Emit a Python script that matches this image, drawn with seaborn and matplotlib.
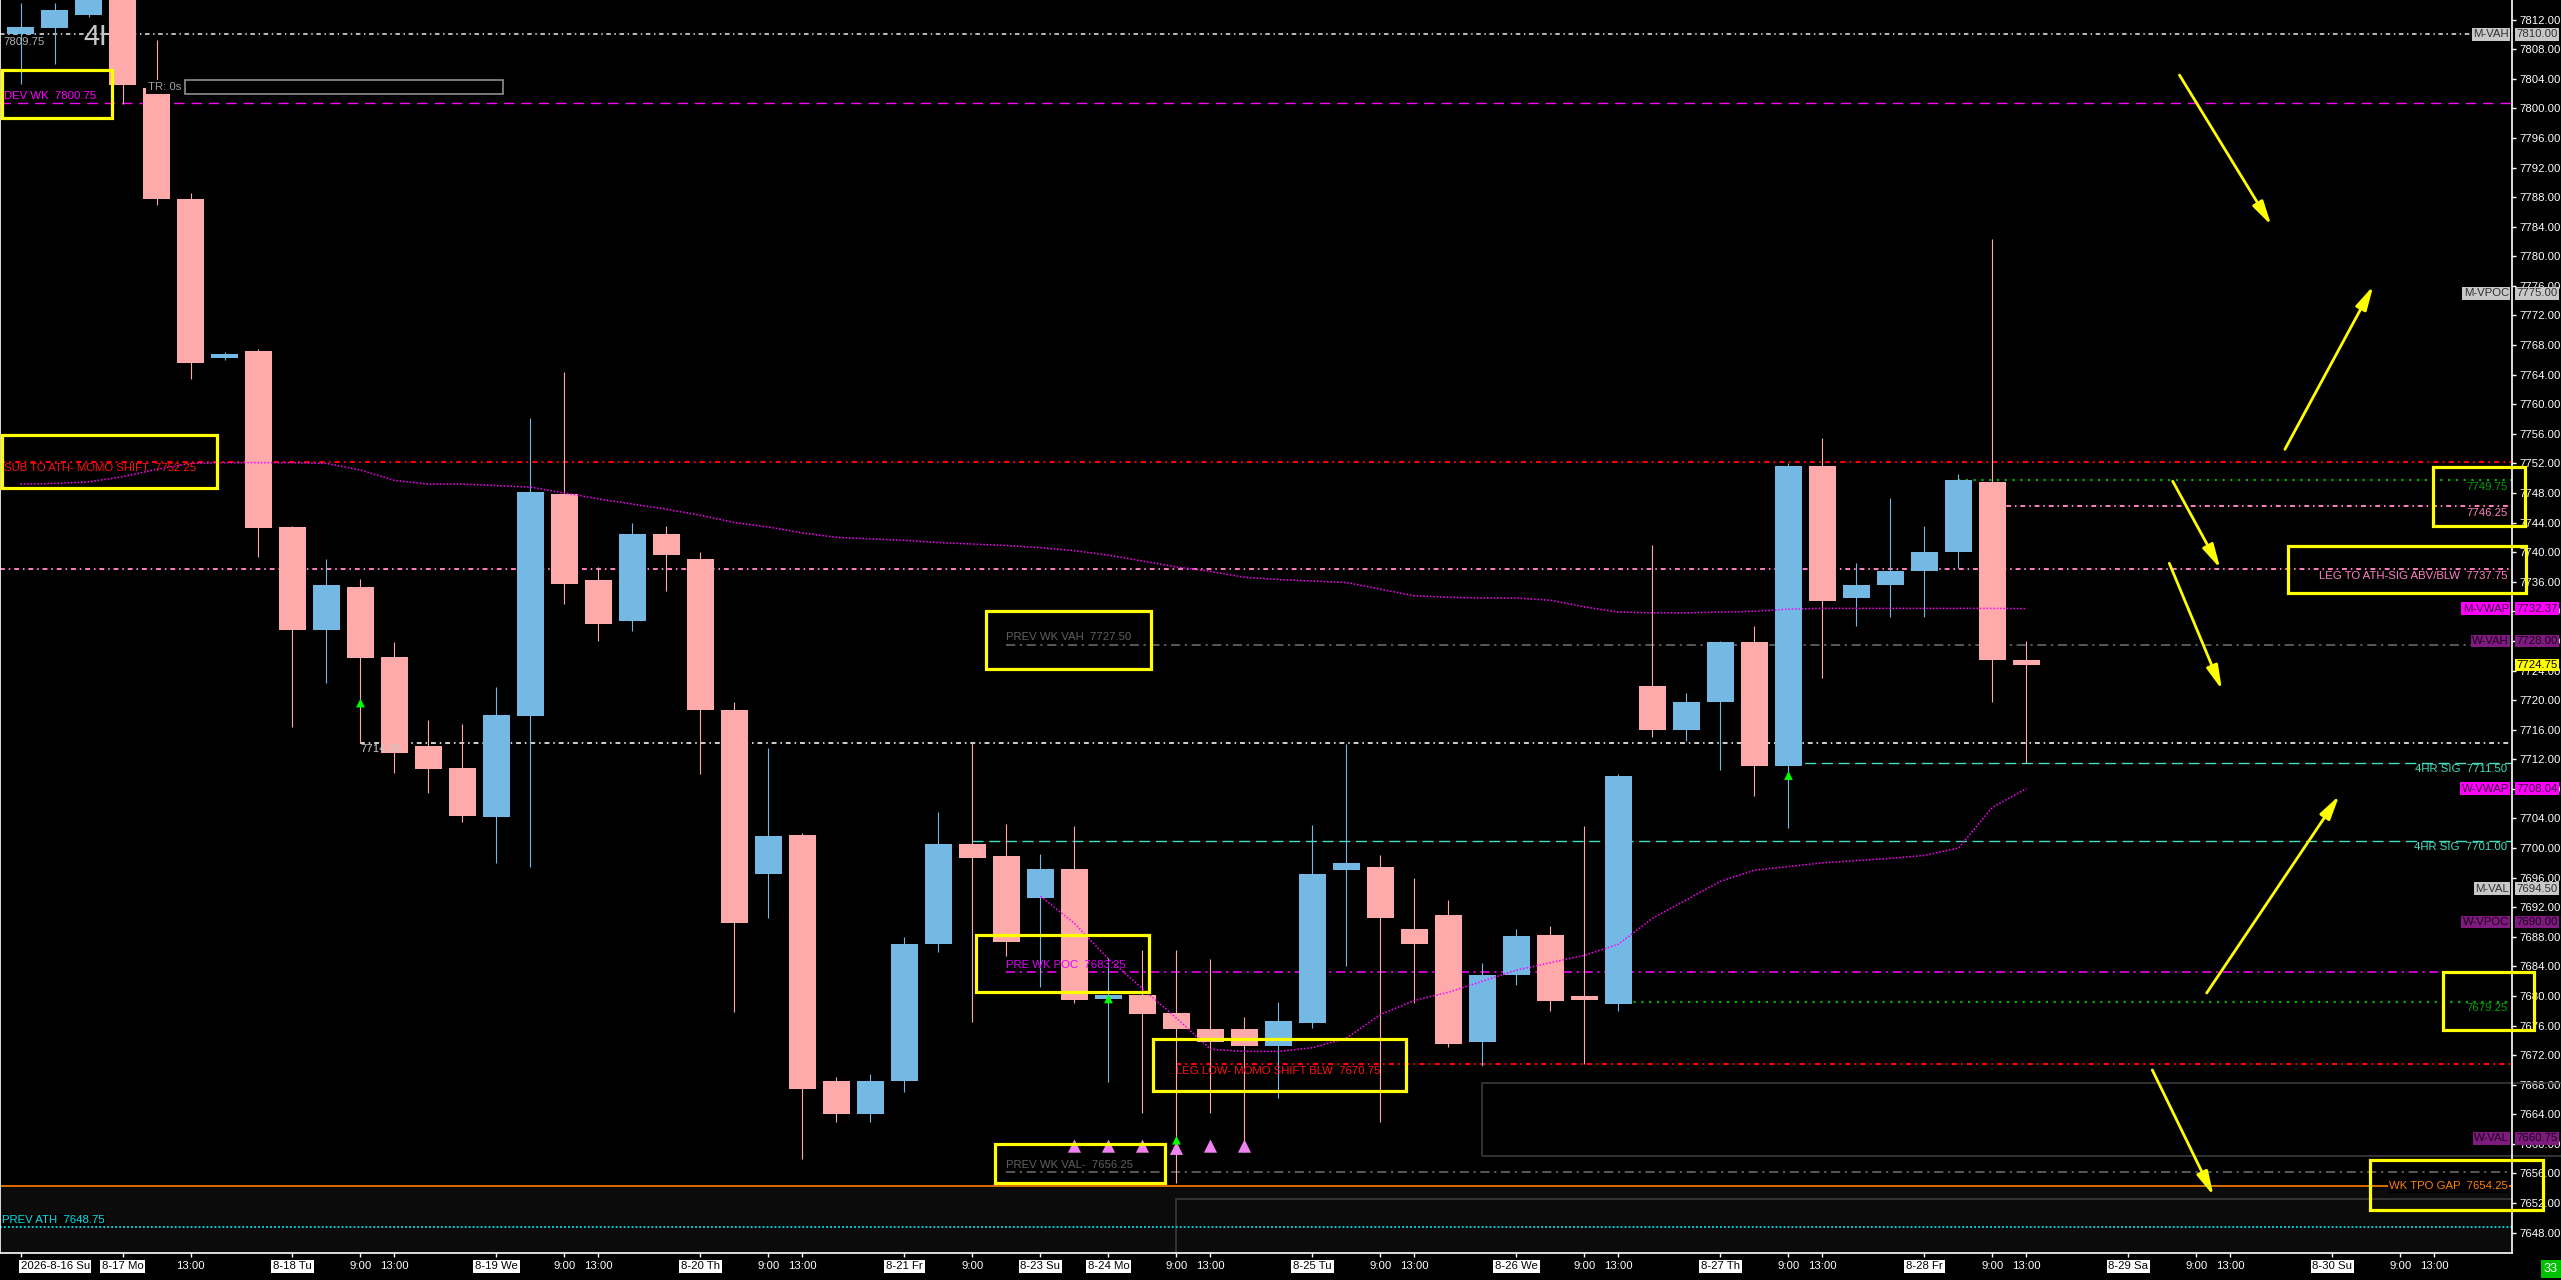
import matplotlib
matplotlib.use('Agg')
import matplotlib.pyplot as plt
import matplotlib.patches as mpatches
from matplotlib import font_manager
import seaborn as sns
import numpy as np
import pandas as pd

# 4h candles, bar 0 = 2026-8-16 Su
opens = [7810.0, 7810.8, 7812.6, 7818.0, 7802.7, 7787.7, 7766.2, 7767.2, 7743.4, 7729.5,
         7735.3, 7725.8, 7713.8, 7710.8, 7704.2, 7717.8, 7747.9, 7736.3, 7730.7, 7742.4,
         7739.1, 7718.6, 7696.5, 7701.8, 7668.5, 7664.1, 7668.5, 7687.0, 7700.5, 7698.9,
         7693.2, 7697.2, 7679.6, 7680.1, 7677.7, 7675.6, 7675.6, 7673.2, 7676.4, 7697.0,
         7697.4, 7689.0, 7691.0, 7673.8, 7682.8, 7688.3, 7680.0, 7678.9, 7721.9, 7716.0,
         7719.7, 7727.9, 7711.1, 7751.7, 7733.8, 7735.6, 7737.4, 7740.0, 7749.5, 7725.4]
highs = [7814.3, 7814.2, 7820.0, 7820.0, 7809.3, 7788.5, 7767.0, 7767.5, 7743.6, 7739.1,
         7736.4, 7727.9, 7717.3, 7716.8, 7721.8, 7758.1, 7764.3, 7738.0, 7744.0, 7743.5,
         7740.0, 7719.7, 7713.5, 7702.0, 7669.0, 7669.5, 7688.0, 7704.9, 7714.2, 7703.3,
         7699.2, 7703.0, 7685.1, 7686.2, 7686.2, 7685.0, 7677.1, 7679.2, 7703.1, 7714.0,
         7699.0, 7696.0, 7693.0, 7684.5, 7689.0, 7689.5, 7703.0, 7710.0, 7741.0, 7721.0,
         7728.0, 7730.0, 7752.0, 7755.5, 7738.5, 7747.3, 7743.5, 7750.5, 7782.4, 7728.0]
lows = [7803.3, 7806.0, 7812.3, 7800.6, 7787.0, 7763.4, 7766.0, 7739.4, 7716.3, 7722.3,
        7714.2, 7710.1, 7707.5, 7703.5, 7698.0, 7697.5, 7733.0, 7728.0, 7729.4, 7734.7,
        7710.0, 7677.8, 7690.5, 7658.0, 7663.0, 7663.0, 7667.0, 7686.0, 7676.5, 7685.4,
        7681.2, 7679.0, 7668.4, 7664.2, 7654.7, 7664.2, 7658.9, 7666.2, 7675.7, 7684.0,
        7662.9, 7679.0, 7673.1, 7670.5, 7681.5, 7678.0, 7670.8, 7678.0, 7715.0, 7714.5,
        7710.5, 7707.0, 7702.7, 7723.0, 7730.0, 7731.2, 7731.2, 7737.8, 7719.7, 7711.5]
closes = [7811.0, 7813.3, 7818.0, 7803.2, 7787.7, 7765.6, 7766.8, 7743.3, 7729.5, 7735.6,
          7725.7, 7712.9, 7710.7, 7704.3, 7718.0, 7748.1, 7735.7, 7730.3, 7742.4, 7739.6,
          7718.6, 7689.9, 7701.6, 7667.4, 7664.1, 7668.5, 7687.0, 7700.5, 7698.7, 7687.3,
          7697.2, 7679.4, 7680.1, 7677.5, 7675.5, 7673.8, 7673.2, 7676.6, 7696.5, 7698.0,
          7690.6, 7687.0, 7673.5, 7682.8, 7688.1, 7679.3, 7679.5, 7709.8, 7716.0, 7719.7,
          7727.9, 7711.1, 7751.7, 7733.4, 7735.6, 7737.4, 7740.0, 7749.7, 7725.4, 7724.75]

# monthly vwap per bar, weekly vwap from bar 30
m_vwap = [7749.2, 7749.3, 7749.5, 7750.2, 7751.2, 7752.0, 7752.1, 7752.1, 7752.1, 7752.0,
          7751.1, 7749.7, 7749.2, 7749.2, 7749.0, 7748.8, 7748.0, 7747.2, 7746.5, 7745.8,
          7745.0, 7744.0, 7743.4, 7742.6, 7742.0, 7741.8, 7741.6, 7741.3, 7741.1, 7740.9,
          7740.6, 7740.2, 7739.6, 7738.8, 7738.0, 7737.4, 7736.6, 7736.3, 7736.1, 7735.9,
          7735.0, 7734.1, 7733.9, 7733.8, 7733.8, 7733.5, 7732.6, 7731.9, 7731.8, 7731.8,
          7731.9, 7732.0, 7732.3, 7732.4, 7732.4, 7732.4, 7732.4, 7732.4, 7732.4, 7732.37]
w_vwap_bars = list(range(30, 60))
w_vwap = [7693.5, 7689.8, 7685.0, 7681.0, 7677.0, 7672.8, 7672.5, 7672.5, 7673.0, 7674.3,
          7677.5, 7679.4, 7680.5, 7682.0, 7683.5, 7684.5, 7685.5, 7687.0, 7690.5, 7693.0,
          7695.5, 7697.0, 7697.5, 7698.0, 7698.3, 7698.6, 7699.0, 7700.0, 7705.5, 7708.04]

up_signal_bars = [10, 32, 34, 52]
up_signal_prices = [7719.6, 7679.6, 7660.5, 7709.8]
pink_signal_bars = [31, 32, 33, 34, 35, 36]
pink_signal_prices = [7659.7, 7659.7, 7659.7, 7659.4, 7659.7, 7659.7]

tick_pos = [0, 3, 5, 8, 10, 11, 14, 16, 17, 20, 22, 23, 26, 28, 30, 32, 34, 35,
            38, 40, 41, 44, 46, 47, 50, 52, 53, 56, 58, 59, 62, 64, 65, 68, 70, 71]
tick_labels = ['2026-8-16 Su', '8-17 Mo', '13:00', '8-18 Tu', '9:00', '13:00', '8-19 We', '9:00', '13:00',
               '8-20 Th', '9:00', '13:00', '8-21 Fr', '9:00', '8-23 Su', '8-24 Mo', '9:00', '13:00',
               '8-25 Tu', '9:00', '13:00', '8-26 We', '9:00', '13:00', '8-27 Th', '9:00', '13:00',
               '8-28 Fr', '9:00', '13:00', '8-29 Sa', '9:00', '13:00', '8-30 Su', '9:00', '13:00']

sns.set_theme(style='dark', rc={'axes.facecolor': 'black', 'figure.facecolor': 'black',
                                'savefig.facecolor': 'black', 'axes.edgecolor': 'white',
                                'xtick.color': 'white', 'ytick.color': 'white'})
fonts = {f.name for f in font_manager.fontManager.ttflist}
main_font = 'Liberation Sans Narrow' if 'Liberation Sans Narrow' in fonts else 'Liberation Sans'
plt.rcParams['font.family'] = [main_font, 'DejaVu Sans']
FS = 10 if main_font.endswith('Narrow') else 8.2

X0, X1 = -0.603, 73.28
Y0, Y1 = 7645.25, 7814.65

fig = plt.figure(figsize=(25.61, 12.80), dpi=100)
ax = fig.add_axes([0, 27 / 1280, 2512 / 2561, 1253 / 1280])
ax.set_xlim(X0, X1)
ax.set_ylim(Y0, Y1)

# dark strip below the tpo gap line
ax.axhspan(Y0, 7654.25, color='#0b0b0b', zorder=0.2)

ax.text(1.85, 7809.6, '4H', color='#c8c8c8', fontsize=21, va='center', ha='left', zorder=1)

# candles
df = pd.DataFrame({'bar': np.arange(len(opens)), 'open': opens, 'high': highs,
                   'low': lows, 'close': closes})
df['color'] = np.where(df['close'] >= df['open'], '#74b9e3', '#ffaaaa')
ax.vlines(df['bar'], df['low'], df['high'], colors=df['color'], lw=0.8, zorder=3)
body = (df['close'] - df['open']).abs().clip(lower=0.4)
ax.bar(df['bar'], body, bottom=np.minimum(df['open'], df['close']), width=0.78,
       color=df['color'], linewidth=0, zorder=4)


def level(price, start, color, ls, lw=1.0, z=2):
    ax.hlines(price, start, X1, colors=color, linestyles=ls, lw=lw, zorder=z)


dashdot = (0, (2.5, 2, 0.8, 2))
level(7810.00, X0, '#c8c8c8', dashdot, 1.3)
level(7800.75, X0, '#ff00ff', (0, (7.5, 5)), 1.0)
level(7752.25, X0, '#ff0000', dashdot, 1.5)
level(7737.75, X0, '#ff80c0', dashdot, 1.4)
level(7749.75, 57, '#00b000', (0, (1, 2.5)), 1.6)
level(7746.25, 58, '#ff80c0', dashdot, 1.4)
level(7727.50, 29, '#707070', (0, (6, 3, 1.5, 3)), 1.1)
level(7714.25, 10, '#d0d0d0', dashdot, 1.4)
level(7711.50, 52, '#40e0c0', (0, (8, 4)), 1.0)
level(7701.00, 28, '#40e0c0', (0, (8, 4)), 1.0)
level(7683.25, 29, '#ff00ff', (0, (6, 3, 1.5, 3)), 1.1)
level(7679.25, 47, '#00b000', (0, (1, 2.5)), 1.6)
level(7670.75, 34, '#ff0000', dashdot, 1.5)
level(7656.25, 29, '#707070', (0, (6, 3, 1.5, 3)), 1.1)
level(7654.25, X0, '#ff8000', '-', 1.2)
level(7648.75, X0, '#00e5ee', (0, (1, 1.2)), 1.3)

ax.add_patch(mpatches.Rectangle((43, 7658.4), X1 + 2 - 43, 7668.3 - 7658.4, fill=False,
                                ec='#3a3a3a', lw=1.2, zorder=1.5, clip_on=False))
ax.add_patch(mpatches.Rectangle((34, Y0 - 5), X1 + 2 - 34, 7652.5 - Y0 + 5, fill=False,
                                ec='#3a3a3a', lw=1.2, zorder=1.5))
ax.add_patch(mpatches.Rectangle((4.84, 7802.0), 14.2 - 4.84, 1.8, fill=False,
                                ec='#909090', lw=1.2, zorder=5))

# vwaps
sns.lineplot(x=np.arange(len(m_vwap)), y=m_vwap, ax=ax, color='#ff00ff',
             linestyle=(0, (1, 1.2)), lw=1.1, zorder=5)
sns.lineplot(x=w_vwap_bars, y=w_vwap, ax=ax, color='#ff00ff',
             linestyle=(0, (1, 1.2)), lw=1.1, zorder=5)

# signal markers
sns.scatterplot(x=pink_signal_bars, y=pink_signal_prices, ax=ax, marker='^', s=90,
                color='#ee82ee', edgecolor='none', zorder=6)
sns.scatterplot(x=up_signal_bars, y=up_signal_prices, ax=ax, marker='^', s=40,
                color='#00ff00', edgecolor='none', zorder=7)

# level labels inside the chart
lab = dict(fontsize=FS, zorder=6)
red_txt = '#ff1010'
ax.text(-0.5, 7801.0, 'DEV WK  7800.75', color='#ff00ff', va='bottom', **lab)
ax.text(-0.5, 7809.6, '7809.75', color='#b0b0b0', va='top', **lab)
ax.text(-0.5, 7752.0, 'SUB TO ATH- MOMO SHIFT  7752.25', color=red_txt, va='top', **lab)
ax.text(29, 7727.8, 'PREV WK VAH  7727.50', color='#606060', va='bottom', **lab)
ax.text(10, 7714.0, '7714.25', color='#c8c8c8', va='top', **lab)
ax.text(29, 7683.5, 'PRE WK POC  7683.25', color='#e000ff', va='bottom', **lab)
ax.text(34, 7670.5, 'LEG LOW- MOMO SHIFT BLW  7670.75', color=red_txt, va='top', **lab)
ax.text(29, 7656.5, 'PREV WK VAL-  7656.25', color='#606060', va='bottom', **lab)
ax.text(-0.55, 7649.0, 'PREV ATH  7648.75', color='#00e5ee', va='bottom',
        bbox=dict(boxstyle='square,pad=0.1', fc='black', ec='none'), **lab)
ax.text(3.75, 7802.9, 'TR: 0s', color='#a0a0a0', va='center', fontsize=FS, zorder=6,
        bbox=dict(boxstyle='square,pad=0.15', fc='black', ec='none'))

rx = 73.15
ax.text(rx, 7749.5, '7749.75', color='#00a000', ha='right', va='top', **lab)
ax.text(rx, 7746.0, '7746.25', color='#ff80c0', ha='right', va='top', **lab)
ax.text(rx, 7737.5, 'LEG TO ATH-SIG ABV/BLW  7737.75', color='#ff80c0', ha='right', va='top', **lab)
ax.text(rx, 7711.3, '4HR SIG  7711.50', color='#40e0c0', ha='right', va='top', **lab)
ax.text(rx, 7700.8, '4HR SIG  7701.00', color='#40e0c0', ha='right', va='top', **lab)
ax.text(rx, 7679.0, '7679.25', color='#00a000', ha='right', va='top', **lab)
ax.text(rx, 7654.25, 'WK TPO GAP  7654.25', color='#ff8000', ha='right', va='center',
        bbox=dict(boxstyle='square,pad=0.1', fc='black', ec='none'), **lab)

# yellow annotation boxes
boxes = [(-0.54, 7798.7, 2.69, 7805.2), (-0.54, 7748.7, 5.78, 7755.8),
         (28.4, 7724.2, 33.25, 7732.0), (28.1, 7680.6, 33.2, 7688.2),
         (33.3, 7667.2, 40.75, 7674.2), (28.66, 7654.75, 33.66, 7660.0),
         (70.96, 7743.6, 73.66, 7751.5), (66.7, 7734.5, 73.7, 7740.8),
         (71.25, 7675.4, 73.93, 7683.3), (69.1, 7651.1, 74.2, 7657.8)]
for xa, ya, xb, yb in boxes:
    ax.add_patch(mpatches.Rectangle((xa, ya), xb - xa, yb - ya, fill=False, ec='#ffff00',
                                    lw=2.3, zorder=9, clip_on=False))

arrows = [((63.5, 7804.5), (66.2, 7784.2)), ((66.6, 7753.9), (69.2, 7776.0)),
          ((63.3, 7749.6), (64.7, 7737.8)), ((63.2, 7738.5), (64.75, 7721.4)),
          ((64.3, 7680.4), (68.2, 7707.1)), ((62.7, 7670.0), (64.5, 7653.0))]
for start, end in arrows:
    ax.annotate('', xy=end, xytext=start, zorder=9,
                arrowprops=dict(arrowstyle='-|>,head_length=0.9,head_width=0.22',
                                color='#ffff00', lw=2.0, shrinkA=0, shrinkB=0,
                                mutation_scale=16))

# axes styling
ax.yaxis.tick_right()
ax.set_yticks(np.arange(7648, 7813, 4))
ax.yaxis.set_major_formatter(matplotlib.ticker.FormatStrFormatter('%.2f'))
ax.tick_params(axis='y', direction='out', length=3, width=1, pad=2, labelsize=FS,
               colors='white', right=True, left=False)
ax.set_xticks(tick_pos)
ax.set_xticklabels(tick_labels)
ax.tick_params(axis='x', direction='out', length=3, width=1, pad=3, labelsize=FS,
               colors='white', bottom=True)
for i, t in enumerate(ax.get_xticklabels()):
    if '-' in t.get_text():
        t.set_color('black')
        t.set_bbox(dict(boxstyle='square,pad=0.15', fc='white', ec='none'))
        if i == 0:
            t.set_ha('left')
ax.grid(False)
ax.spines['top'].set_visible(False)
for side in ['left', 'right', 'bottom']:
    ax.spines[side].set_color('white')
    ax.spines[side].set_linewidth(1.2)
ax.set_xlabel('')
ax.set_ylabel('')

# tags on the price scale
tr = ax.get_yaxis_transform()


def tag(price, name, value, bg, fg):
    if name:
        ax.text(0.9988, price, name, transform=tr, ha='right', va='center', color=fg,
                fontsize=FS, zorder=10, clip_on=False,
                bbox=dict(boxstyle='square,pad=0.12', fc=bg, ec='none'))
    ax.text(1.0018, price, value, transform=tr, ha='left', va='center', color=fg,
            fontsize=FS, zorder=10, clip_on=False,
            bbox=dict(boxstyle='square,pad=0.12', fc=bg, ec='none'))


tag(7810.00, 'M-VAH', '7810.00', '#c8c8c8', '#303030')
tag(7775.00, 'M-VPOC', '7775.00', '#c8c8c8', '#303030')
tag(7732.37, 'M-VWAP', '7732.37', '#ff00ff', '#3a003a')
tag(7728.00, 'W-VAH', '7728.00', '#7f1a7f', '#1a001a')
tag(7724.75, None, '7724.75', '#ffff00', '#000000')
tag(7708.04, 'W-VWAP', '7708.04', '#ff00ff', '#3a003a')
tag(7694.50, 'M-VAL', '7694.50', '#c8c8c8', '#303030')
tag(7690.00, 'W-VPOC', '7690.00', '#7f1a7f', '#1a001a')
tag(7660.75, 'W-VAL', '7660.75', '#7f1a7f', '#1a001a')

fig.text(2551 / 2561, 11 / 1280, '33', color='white', fontsize=FS + 1, ha='center',
         va='center', zorder=20,
         bbox=dict(boxstyle='square,pad=0.25', fc='#00c000', ec='none'))

fig.savefig('out.png', dpi=100, facecolor='black')
